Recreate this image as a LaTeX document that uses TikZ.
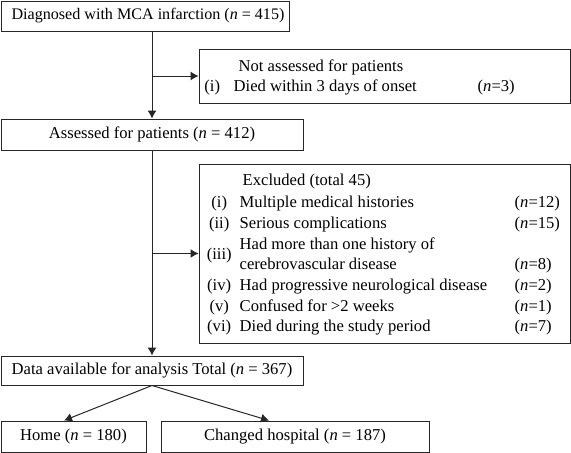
\documentclass[tikz,border=0pt]{standalone}
\usepackage{fontspec}
\setmainfont{Liberation Serif}
\usepackage{array}
\usepackage{tikz}
\usetikzlibrary{calc, positioning, arrows.meta}
\tikzset{
 block/.style = {
    rectangle, draw=black!85, line width=1pt,
    inner sep=0pt,
    text centered,
    font=\fontsize{16.6}{20.7}\selectfont},
 line/.style = {
    draw=black!85, line width=1pt, -{Latex[length=8pt, width=9pt]}},
 list text/.style = {
    anchor=north west, inner sep=0pt, align=left,
    font=\fontsize{16.6}{20.7}\selectfont},
}
\begin{document}
\begin{tikzpicture}[x=1pt, y=-1pt]
                        \useasboundingbox (0,0) rectangle (571,453);

                            % Place nodes
                            \node [block, minimum width=288pt, minimum height=30pt, font=\fontsize{16.1}{20.7}\selectfont] (diag) at (145,16) {\hspace{6pt}Diagnosed with MCA infarction (\textit{n} = 415)};
                            \node [block, minimum width=371pt, minimum height=54pt] (na)     at (384.5,76)  {};
                            \node [block, minimum width=302pt, minimum height=31pt] (assess) at (152,134.5) {Assessed for patients (\textit{n} = 412)};
                            \node [block, minimum width=371pt, minimum height=179pt] (excl)  at (384.5,253.5) {};
                            \node [block, minimum width=302pt, minimum height=29pt] (data)   at (152,370.5) {Data available for analysis Total (\textit{n} = 367)};
                            \node [block, minimum width=145pt, minimum height=31pt] (home)   at (73.5,436.5) {Home (\textit{n} = 180)};
                            \node [block, minimum width=268pt, minimum height=31pt] (change) at (295,436.5)  {Changed hospital (\textit{n} = 187)};

                            % Lists inside the side boxes
                            \node [list text] (nalist) at ([yshift=-8.5pt]na.north west) {%
                                \begin{tabular}{@{}>{\centering\arraybackslash}p{27pt}@{\hspace{8pt}}p{244pt}@{}l@{}}
                                    & \hspace{5pt}Not assessed for patients \\[-0.7pt]
                                (i) & Died within 3 days of onset & (\textit{n}=3)
                                \end{tabular}};
                            \node [list text] (excllist) at ([yshift=-7.5pt]excl.north west) {%
                                \begin{tabular}{@{}>{\centering\arraybackslash}p{41pt}@{}p{275pt}@{}l@{}}
                                    & \hspace{3pt}Excluded (total 45) \\[1.3pt]
                                (i) & Multiple medical histories & (\textit{n}=12) \\
                                (ii) & Serious complications & (\textit{n}=15) \\
                                \raisebox{-10.35pt}[0pt][0pt]{(iii)} & Had more than one history of & \\
                                    & cerebrovascular disease & (\textit{n}=8) \\
                                (iv) & Had progressive neurological disease & (\textit{n}=2) \\
                                (v) & Confused for >2 weeks & (\textit{n}=1) \\
                                (vi) & Died during the study period & (\textit{n}=7)
                                \end{tabular}};

                        \coordinate (b1) at (assess.north |- na.west);
                        \coordinate (b2) at (data.north |- excl.west);
                        \path [line] (assess.north |- diag.south) -- (assess.north);
                        \path [line] (b1) -- (na.west);
                        \path [line] (data.north |- assess.south) -- (data.north);
                        \path [line] (b2) -- (excl.west);
                        \path [line] (data.south) -- ([xshift=-9.5pt]home.north);
                        \path [line] (data.south) -- ([xshift=-26pt]change.north);

                        \end{tikzpicture}
\end{document}
